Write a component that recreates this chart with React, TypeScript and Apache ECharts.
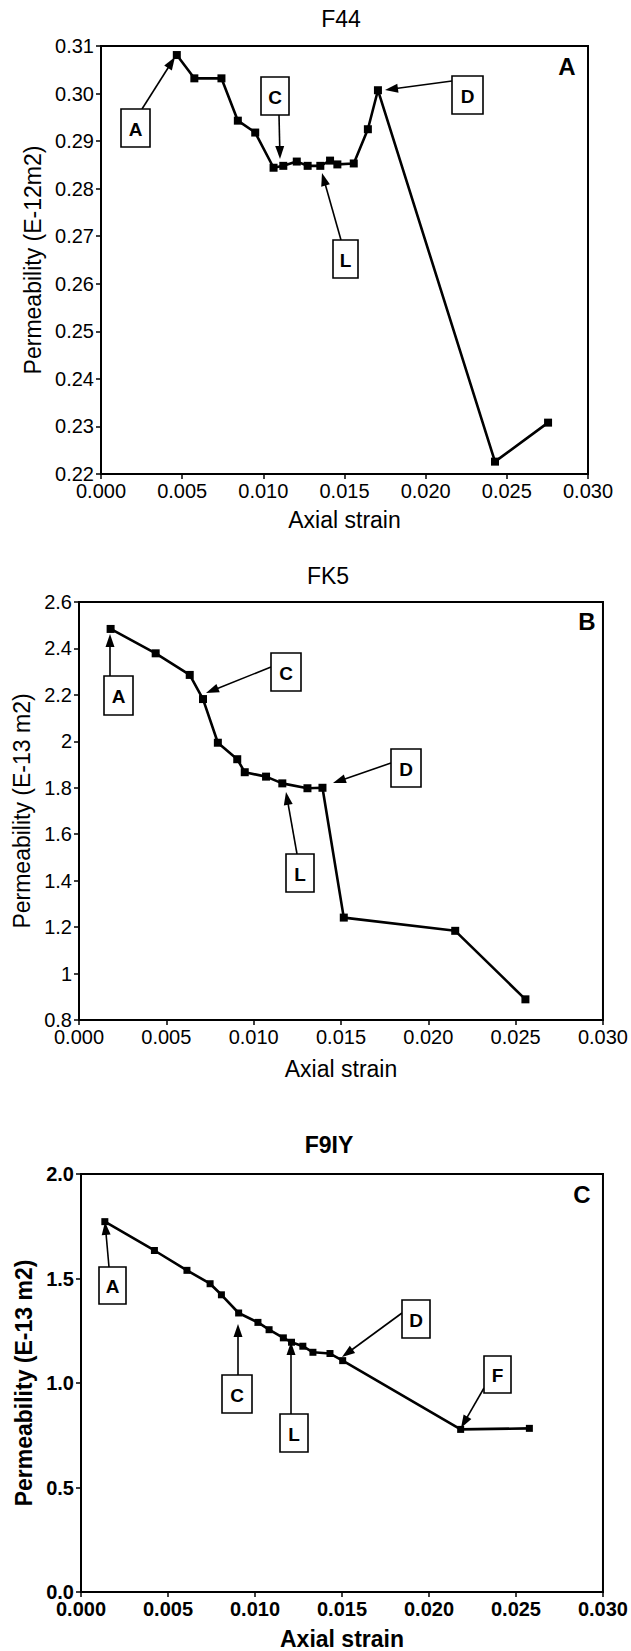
import React, { useEffect, useRef } from "react";
import * as echarts from "echarts";

// ---- Data ----
const xTickLabels = ["0.000", "0.005", "0.010", "0.015", "0.020", "0.025", "0.030"];

const f44Strain = [0.00467, 0.00575, 0.00742, 0.00843, 0.0095, 0.01063, 0.01123, 0.01206, 0.01273, 0.01351, 0.01411, 0.01456, 0.01557, 0.01644, 0.01706, 0.02427, 0.02754];
const f44Perm = [0.3081, 0.3032, 0.3032, 0.2943, 0.2918, 0.2844, 0.2848, 0.2857, 0.2848, 0.2848, 0.2859, 0.2851, 0.2853, 0.2925, 0.3007, 0.2226, 0.2308];

const fk5Strain = [0.00181, 0.00439, 0.00634, 0.0071, 0.00795, 0.00906, 0.00949, 0.01071, 0.01164, 0.01308, 0.01394, 0.01516, 0.02154, 0.02556];
const fk5Perm = [2.484, 2.379, 2.286, 2.182, 1.994, 1.923, 1.867, 1.848, 1.819, 1.798, 1.8, 1.241, 1.184, 0.889];

const f9iyStrain = [0.00137, 0.00422, 0.00609, 0.00742, 0.00807, 0.00906, 0.01017, 0.01081, 0.01163, 0.0121, 0.01275, 0.01333, 0.01431, 0.01504, 0.02182, 0.02577];
const f9iyPerm = [1.772, 1.634, 1.539, 1.475, 1.422, 1.335, 1.29, 1.255, 1.216, 1.195, 1.176, 1.147, 1.141, 1.107, 0.778, 0.783];

const titles = ["F44", "FK5", "F9IY"];
const panelLetters = ["A", "B", "C"];
const yNames = ["Permeability (E-12m2)", "Permeability (E-13 m2)", "Permeability (E-13 m2)"];
const xName = "Axial strain";

// ---- Layout ----
const FONT = "'Liberation Sans', Arial, Helvetica, sans-serif";
const grids = [
  { left: 101, top: 46, width: 487, height: 428 },
  { left: 79, top: 602, width: 530, height: 418 },
  { left: 81, top: 1174, width: 522, height: 419 },
];
const yRanges = [
  { min: 0.22, max: 0.31, interval: 0.01, fmt: (v: number) => v.toFixed(2) },
  { min: 0.8, max: 2.6, interval: 0.2, fmt: (v: number) => String(+v.toFixed(1)) },
  { min: 0, max: 2, interval: 0.5, fmt: (v: number) => v.toFixed(1) },
];
const bold = [false, false, true];
const titlePos = [
  { x: 341, y: 19 },
  { x: 328, y: 576 },
  { x: 329, y: 1145 },
];
const letterPos = [
  { x: 567, y: 66 },
  { x: 587, y: 621 },
  { x: 582, y: 1194 },
];
const yNameGap = [57, 46, 45];
const xNameGap = [34, 37, 35];
const NAME_SIZE = 23;
const TICK_SIZE = 20;

// annotation boxes (pixel layout): box rect and arrow from (sx,sy) to tip (tx,ty)
type Ann = { t: string; x: number; y: number; w: number; h: number; sx: number; sy: number; tx: number; ty: number };
const annotations: Ann[] = [
  { t: "A", x: 121, y: 109, w: 29, h: 38, sx: 142, sy: 109, tx: 175, ty: 57 },
  { t: "C", x: 261, y: 77, w: 28, h: 38, sx: 279, sy: 115, tx: 280, ty: 159 },
  { t: "D", x: 452, y: 76, w: 31, h: 38, sx: 452, sy: 81, tx: 385, ty: 90 },
  { t: "L", x: 333, y: 240, w: 25, h: 38, sx: 341, sy: 240, tx: 322, ty: 173 },

  { t: "A", x: 104, y: 676, w: 29, h: 39, sx: 110, sy: 676, tx: 110, ty: 634 },
  { t: "C", x: 271, y: 653, w: 30, h: 38, sx: 271, sy: 667, tx: 206, ty: 693 },
  { t: "D", x: 391, y: 749, w: 30, h: 38, sx: 391, sy: 763, tx: 333, ty: 783 },
  { t: "L", x: 286, y: 854, w: 28, h: 38, sx: 297, sy: 854, tx: 286, ty: 792 },

  { t: "A", x: 99, y: 1267, w: 27, h: 37, sx: 109, sy: 1267, tx: 105, ty: 1222 },
  { t: "C", x: 222, y: 1375, w: 30, h: 38, sx: 238, sy: 1375, tx: 238, ty: 1324 },
  { t: "L", x: 280, y: 1414, w: 28, h: 38, sx: 291, sy: 1414, tx: 291, ty: 1342 },
  { t: "D", x: 402, y: 1300, w: 28, h: 38, sx: 402, sy: 1313, tx: 342, ty: 1357 },
  { t: "F", x: 484, y: 1356, w: 27, h: 37, sx: 484, sy: 1388, tx: 461, ty: 1428 },
];

function arrow(sx: number, sy: number, tx: number, ty: number): any[] {
  const headLen = 13;
  const headW = 4.5;
  const dx = tx - sx;
  const dy = ty - sy;
  const L = Math.hypot(dx, dy);
  const ux = dx / L;
  const uy = dy / L;
  const bx = tx - ux * headLen;
  const by = ty - uy * headLen;
  const px = -uy;
  const py = ux;
  return [
    { type: "line", shape: { x1: sx, y1: sy, x2: bx + ux * 2, y2: by + uy * 2 }, style: { stroke: "#000", lineWidth: 1.6 } },
    {
      type: "polygon",
      shape: { points: [[tx, ty], [bx + px * headW, by + py * headW], [bx - px * headW, by - py * headW]] },
      style: { fill: "#000" },
    },
  ];
}

export default function App() {
  const ref = useRef<HTMLDivElement>(null);

  useEffect(() => {
    document.body.style.margin = "0";
    if (!ref.current) return;
    const chart = echarts.init(ref.current, undefined, { renderer: "svg" });

    const seriesData = [
      f44Strain.map((x, i) => [x, f44Perm[i]]),
      fk5Strain.map((x, i) => [x, fk5Perm[i]]),
      f9iyStrain.map((x, i) => [x, f9iyPerm[i]]),
    ];

    const graphic: any[] = [];
    titles.forEach((t, i) => {
      graphic.push({
        type: "text",
        x: titlePos[i].x,
        y: titlePos[i].y,
        style: { text: t, align: "center", verticalAlign: "middle", font: `${bold[i] ? "bold " : ""}${NAME_SIZE}px ${FONT}`, fill: "#000" },
      });
      graphic.push({
        type: "text",
        x: letterPos[i].x,
        y: letterPos[i].y,
        style: { text: panelLetters[i], align: "center", verticalAlign: "middle", font: `bold 24px ${FONT}`, fill: "#000" },
      });
    });
    annotations.forEach((a) => {
      graphic.push(...arrow(a.sx, a.sy, a.tx, a.ty));
      graphic.push({
        type: "rect",
        shape: { x: a.x, y: a.y, width: a.w, height: a.h },
        style: { fill: "#fff", stroke: "#000", lineWidth: 1.6 },
      });
      graphic.push({
        type: "text",
        x: a.x + a.w / 2,
        y: a.y + a.h / 2 + 1,
        style: { text: a.t, align: "center", verticalAlign: "middle", font: `bold 19px ${FONT}`, fill: "#000" },
      });
    });

    chart.setOption({
      animation: false,
      backgroundColor: "#fff",
      grid: grids.map((g) => ({ ...g, show: true, borderColor: "#000", borderWidth: 2, backgroundColor: "transparent", containLabel: false })),
      xAxis: grids.map((_, i) => ({
        type: "value",
        gridIndex: i,
        min: 0,
        max: 0.03,
        interval: 0.005,
        name: xName,
        nameLocation: "middle",
        nameGap: xNameGap[i],
        nameTextStyle: { color: "#000", fontSize: NAME_SIZE, fontFamily: FONT, fontWeight: bold[i] ? "bold" : "normal" },
        axisLine: { show: true, lineStyle: { color: "#000", width: 2 } },
        axisTick: { show: true, length: 5, lineStyle: { color: "#000", width: 1.5 } },
        axisLabel: {
          color: "#000",
          fontSize: TICK_SIZE,
          fontFamily: FONT,
          fontWeight: bold[i] ? "bold" : "normal",
          margin: 7,
          showMinLabel: true,
          showMaxLabel: true,
          formatter: (v: number) => xTickLabels[Math.round(v / 0.005)] ?? v.toFixed(3),
        },
        splitLine: { show: false },
      })),
      yAxis: grids.map((_, i) => ({
        type: "value",
        gridIndex: i,
        min: yRanges[i].min,
        max: yRanges[i].max,
        interval: yRanges[i].interval,
        name: yNames[i],
        nameLocation: "middle",
        nameGap: yNameGap[i],
        nameTextStyle: { color: "#000", fontSize: NAME_SIZE, fontFamily: FONT, fontWeight: bold[i] ? "bold" : "normal" },
        axisLine: { show: true, lineStyle: { color: "#000", width: 2 } },
        axisTick: { show: true, length: 5, lineStyle: { color: "#000", width: 1.5 } },
        axisLabel: {
          color: "#000",
          fontSize: TICK_SIZE,
          fontFamily: FONT,
          fontWeight: bold[i] ? "bold" : "normal",
          margin: 7,
          showMinLabel: true,
          showMaxLabel: true,
          formatter: yRanges[i].fmt,
        },
        splitLine: { show: false },
      })),
      series: seriesData.map((d, i) => ({
        type: "line",
        xAxisIndex: i,
        yAxisIndex: i,
        data: d,
        symbol: "rect",
        symbolSize: i === 2 ? 7 : 8,
        showAllSymbol: true,
        lineStyle: { color: "#000", width: 2.6 },
        itemStyle: { color: "#000" },
        z: 3,
      })),
      graphic,
    });

    return () => chart.dispose();
  }, []);

  return <div ref={ref} style={{ width: 631, height: 1651 }} />;
}
